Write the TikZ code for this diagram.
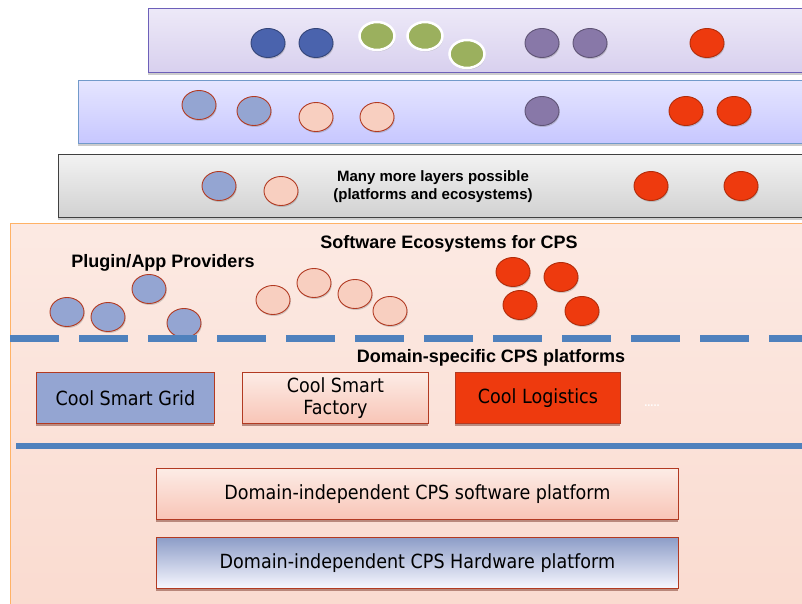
\documentclass[tikz,border=0pt]{standalone}
\usepackage{fontspec}
\setmainfont{DejaVu Sans}[FakeStretch=0.9]
\newfontfamily\headfont{Liberation Sans}
\usetikzlibrary{shapes.geometric,shadows,positioning}

\definecolor{navydot}{HTML}{4A63AD}
\definecolor{greendot}{HTML}{9BB05E}
\definecolor{violetdot}{HTML}{8878A8}
\definecolor{steeldot}{HTML}{94A5D2}
\definecolor{pinkdot}{HTML}{F8CFC0}
\definecolor{reddot}{HTML}{EE3A0E}
\definecolor{rimred}{HTML}{B23A22}
\definecolor{barblue}{HTML}{4F81BD}
\definecolor{lavtop}{HTML}{EDE9F8}
\definecolor{lavbot}{HTML}{D8D0EE}

\begin{document}
\begin{tikzpicture}[x=1pt, y=-1pt,
	dot/.style={ellipse, draw=rimred, line width=0.9pt, inner sep=0pt,
		minimum width=34pt, minimum height=29pt,
		drop shadow={shadow xshift=0.8pt, shadow yshift=-1.5pt, opacity=0.35}},
	dot navy/.style={dot, fill=navydot, draw=navydot!70!black},
	dot green/.style={dot, fill=greendot, draw=white, line width=2.5pt, minimum width=35pt, minimum height=28pt},
	dot violet/.style={dot, fill=violetdot, draw=violetdot!70!black},
	dot steel/.style={dot, fill=steeldot},
	dot pink/.style={dot, fill=pinkdot},
	dot red/.style={dot, fill=reddot, draw=reddot!75!black},
	layer/.style={rectangle, anchor=north west, inner sep=0pt, line width=0.8pt,
		drop shadow={shadow xshift=0pt, shadow yshift=-2.5pt, opacity=0.4}},
	platform/.style={rectangle, anchor=north west, inner sep=0pt, align=center,
		draw=rimred, line width=0.8pt, font=\fontsize{19.5}{22}\selectfont,
		drop shadow={shadow xshift=0pt, shadow yshift=-2.5pt, opacity=0.45, fill=rimred!60!black}},
	heading/.style={font=\headfont\bfseries\fontsize{18}{20}\selectfont}]

	\useasboundingbox (0,0) rectangle (802,604);
	\clip (0,0) rectangle (802,604);

	% stacked layers
	\node [layer, draw=violetdot!80!blue, top color=lavtop, bottom color=lavbot,
		minimum width=700pt, minimum height=64pt] (layer-top) at (148,8) {};
	\node [layer, draw=barblue!80!white, top color=blue!10, bottom color=blue!22,
		minimum width=760pt, minimum height=63pt] (layer-mid) at (78,80) {};
	\node [layer, draw=black!75, top color=black!5, bottom color=black!18,
		minimum width=780pt, minimum height=63pt] (layer-more) at (58,154) {};
	\node [layer, draw=orange!60, top color=pinkdot!45, bottom color=pinkdot!75,
		drop shadow={opacity=0}, minimum width=800pt, minimum height=390pt] (eco) at (10,223) {};

	% dots of the top layer
	\foreach \x [count=\i] in {268,316}
	\node [dot navy] (top-navy-\i) at (\x,43) {};
	\foreach \x/\y [count=\i] in {377/36,425/36,467/54}
	\node [dot green] (top-green-\i) at (\x,\y) {};
	\foreach \x [count=\i] in {542,590}
	\node [dot violet] (top-violet-\i) at (\x,43) {};
	\node [dot red] (top-red-1) at (707,43) {};

	% dots of the middle layer
	\foreach \x/\y [count=\i] in {199/105,254/111}
	\node [dot steel] (mid-steel-\i) at (\x,\y) {};
	\foreach \x [count=\i] in {316,377}
	\node [dot pink] (mid-pink-\i) at (\x,117) {};
	\node [dot violet] (mid-violet-1) at (542,111) {};
	\foreach \x [count=\i] in {686,734}
	\node [dot red] (mid-red-\i) at (\x,111) {};

	% dots and text of the third layer
	\node [dot steel] (more-steel-1) at (219,186) {};
	\node [dot pink] (more-pink-1) at (281,191) {};
	\foreach \x [count=\i] in {651,741}
	\node [dot red] (more-red-\i) at (\x,186) {};
	\node [heading, font=\headfont\bfseries\fontsize{15}{18}\selectfont, align=center]
		(more-text) at (433,187) {Many more layers possible\\(platforms and ecosystems)};

	% ecosystem
	\node [heading] (eco-title) at (449,244) {Software Ecosystems for CPS};
	\node [heading] (plugin-title) at (163,263) {Plugin/App Providers};
	\foreach \x/\y [count=\i] in {67/312,108/317,149/289,184/323}
	\node [dot steel] (eco-steel-\i) at (\x,\y) {};
	\foreach \x/\y [count=\i] in {273/300,314/283,355/294,390/311}
	\node [dot pink] (eco-pink-\i) at (\x,\y) {};
	\foreach \x/\y [count=\i] in {513/272,561/277,520/305,582/311}
	\node [dot red] (eco-red-\i) at (\x,\y) {};

	\coordinate (dash-start) at (10,338);
	\coordinate (dash-end) at (802,338);
	\draw [barblue, line width=7pt, dash pattern=on 49pt off 20pt] (dash-start) -- (dash-end);

	% domain-specific platforms
	\node [heading] (ds-title) at (491,358) {Domain-specific CPS platforms};
	\node [platform, fill=steeldot, minimum width=178pt, minimum height=51pt]
		(grid) at (36,372) {Cool Smart Grid};
	\node [platform, top color=pinkdot!40, bottom color=pinkdot!95!red, minimum width=186pt, minimum height=51pt]
		(factory) at (242,372) {Cool Smart\\Factory};
	\node [platform, fill=reddot, minimum width=165pt, minimum height=51pt]
		(logistics) at (455,372) {Cool Logistics};
	\node [white, font=\bfseries\fontsize{9}{10}\selectfont] (more-dots) at (652,406) {.....};

	\coordinate (bar-start) at (16,446);
	\coordinate (bar-end) at (802,446);
	\draw [barblue, line width=6pt] (bar-start) -- (bar-end);

	% domain-independent platforms
	\node [platform, top color=pinkdot!40, bottom color=pinkdot!95!red, minimum width=522pt, minimum height=51pt]
		(sw-platform) at (156,468) {Domain-independent CPS software platform};
	\node [platform, top color=steeldot!95!black, bottom color=blue!3, minimum width=522pt, minimum height=51pt]
		(hw-platform) at (156,537) {Domain-independent CPS Hardware platform};

\end{tikzpicture}
\end{document}
